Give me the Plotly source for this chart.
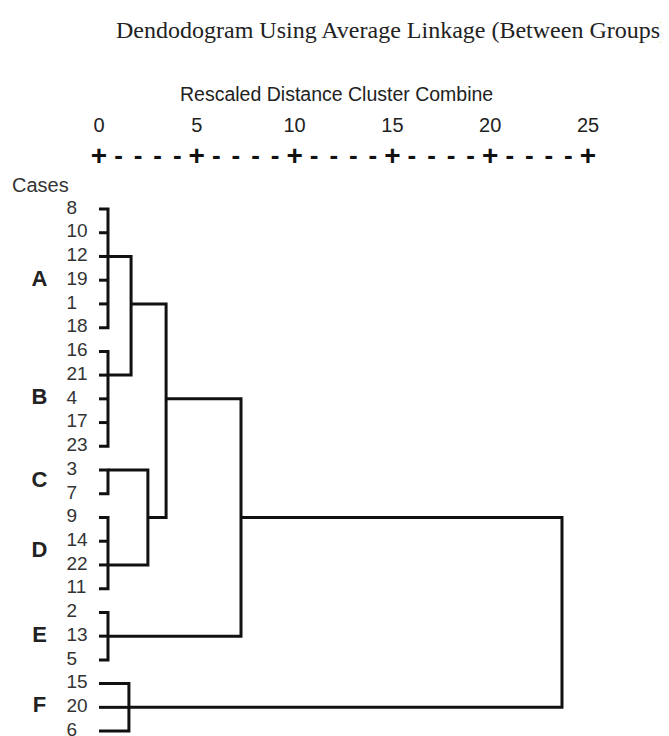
import plotly.graph_objects as go

# ---------------- data ----------------
leaves = ["8", "10", "12", "19", "1", "18", "16", "21", "4", "17", "23",
          "3", "7", "9", "14", "22", "11", "2", "13", "5", "15", "20", "6"]

# clusters: children, rescaled distance at which they combine, leaf row where the node attaches
cluster_names = ["A", "B", "C", "D", "E", "F", "AB", "CD", "ABCD", "ABCDE", "ALL"]
cluster_children = [
    ["8", "10", "12", "19", "1", "18"],
    ["16", "21", "4", "17", "23"],
    ["3", "7"],
    ["9", "14", "22", "11"],
    ["2", "13", "5"],
    ["15", "20", "6"],
    ["A", "B"],
    ["C", "D"],
    ["AB", "CD"],
    ["ABCD", "E"],
    ["ABCDE", "F"],
]
cluster_dist = [0.46, 0.46, 0.46, 0.46, 0.46, 1.53, 1.64, 2.50, 3.43, 7.26, 23.67]
cluster_node_leaf = ["12", "21", "3", "22", "13", "20", "1", "9", "4", "9", "20"]

group_labels = ["A", "B", "C", "D", "E", "F"]
group_label_rows = [3.0, 8.0, 11.5, 14.45, 18.0, 20.95]

axis_ticks = [0, 5, 10, 15, 20, 25]
dash_ticks = [d for d in range(0, 26) if d % 5 != 0]

# ---------------- build geometry ----------------
row = {lab: i for i, lab in enumerate(leaves)}
height = {lab: 0.0 for lab in leaves}
for name, dist, nl in zip(cluster_names, cluster_dist, cluster_node_leaf):
    height[name] = dist
    row[name] = row[nl]

xs, ys = [], []
for name, kids, dist in zip(cluster_names, cluster_children, cluster_dist):
    kids_sorted = sorted(kids, key=lambda k: row[k])
    top, bot = kids_sorted[0], kids_sorted[-1]
    xs += [height[top], dist, dist, height[bot], None]
    ys += [row[top], row[top], row[bot], row[bot], None]
    for k in kids_sorted[1:-1]:
        xs += [height[k], dist, None]
        ys += [row[k], row[k], None]

SANS = "Liberation Sans, Arial, Helvetica"
fig = go.Figure()
fig.add_trace(go.Scatter(x=xs, y=ys, mode="lines",
                         line=dict(color="#111111", width=3),
                         hoverinfo="skip", showlegend=False))

# leaf labels
fig.add_trace(go.Scatter(x=[-1.66] * len(leaves), y=list(range(len(leaves))),
                         mode="text", text=leaves, textposition="middle right",
                         textfont=dict(family=SANS, size=19, color="#333333"),
                         hoverinfo="skip", showlegend=False))

# group labels
fig.add_trace(go.Scatter(x=[-3.04] * len(group_labels), y=group_label_rows,
                         mode="text", text=[f"<b>{g}</b>" for g in group_labels],
                         textposition="middle center",
                         textfont=dict(family=SANS, size=22, color="#222222"),
                         hoverinfo="skip", showlegend=False))

# axis numbers
fig.add_trace(go.Scatter(x=axis_ticks, y=[-3.46] * len(axis_ticks), mode="text",
                         text=[str(t) for t in axis_ticks], textposition="middle center",
                         textfont=dict(family=SANS, size=20, color="#222222"),
                         hoverinfo="skip", showlegend=False))
# plus marks and dashes
fig.add_trace(go.Scatter(x=axis_ticks, y=[-2.16] * len(axis_ticks), mode="text",
                         text=["<b>+</b>"] * len(axis_ticks), textposition="middle center",
                         textfont=dict(family=SANS, size=28, color="#111111"),
                         hoverinfo="skip", showlegend=False))
fig.add_trace(go.Scatter(x=dash_ticks, y=[-2.16] * len(dash_ticks), mode="text",
                         text=["<b>-</b>"] * len(dash_ticks), textposition="middle center",
                         textfont=dict(family=SANS, size=26, color="#111111"),
                         hoverinfo="skip", showlegend=False))

fig.add_annotation(x=-4.55, y=-1.01, xref="x", yref="y", text="Cases", showarrow=False,
                   xanchor="left", yanchor="middle",
                   font=dict(family=SANS, size=20, color="#333333"))
fig.add_annotation(x=12.14, y=-4.85, xref="x", yref="y", text="Rescaled Distance Cluster Combine",
                   showarrow=False, xanchor="center", yanchor="middle",
                   font=dict(family=SANS, size=19.5, color="#222222"))
fig.add_annotation(x=0.99, y=0.970, xref="paper", yref="paper",
                   text="Dendodogram Using Average Linkage (Between Groups)",
                   showarrow=False, xanchor="right", yanchor="middle",
                   font=dict(family="Liberation Serif, Times New Roman", size=24, color="#222222"))

fig.update_layout(
    width=669, height=736,
    margin=dict(l=0, r=0, t=0, b=0),
    paper_bgcolor="white", plot_bgcolor="white",
    xaxis=dict(range=[-4.652, 29.55], visible=False, fixedrange=True),
    yaxis=dict(range=[22.545, -8.47], visible=False, fixedrange=True),
    showlegend=False,
)

fig.write_html("out.html")
